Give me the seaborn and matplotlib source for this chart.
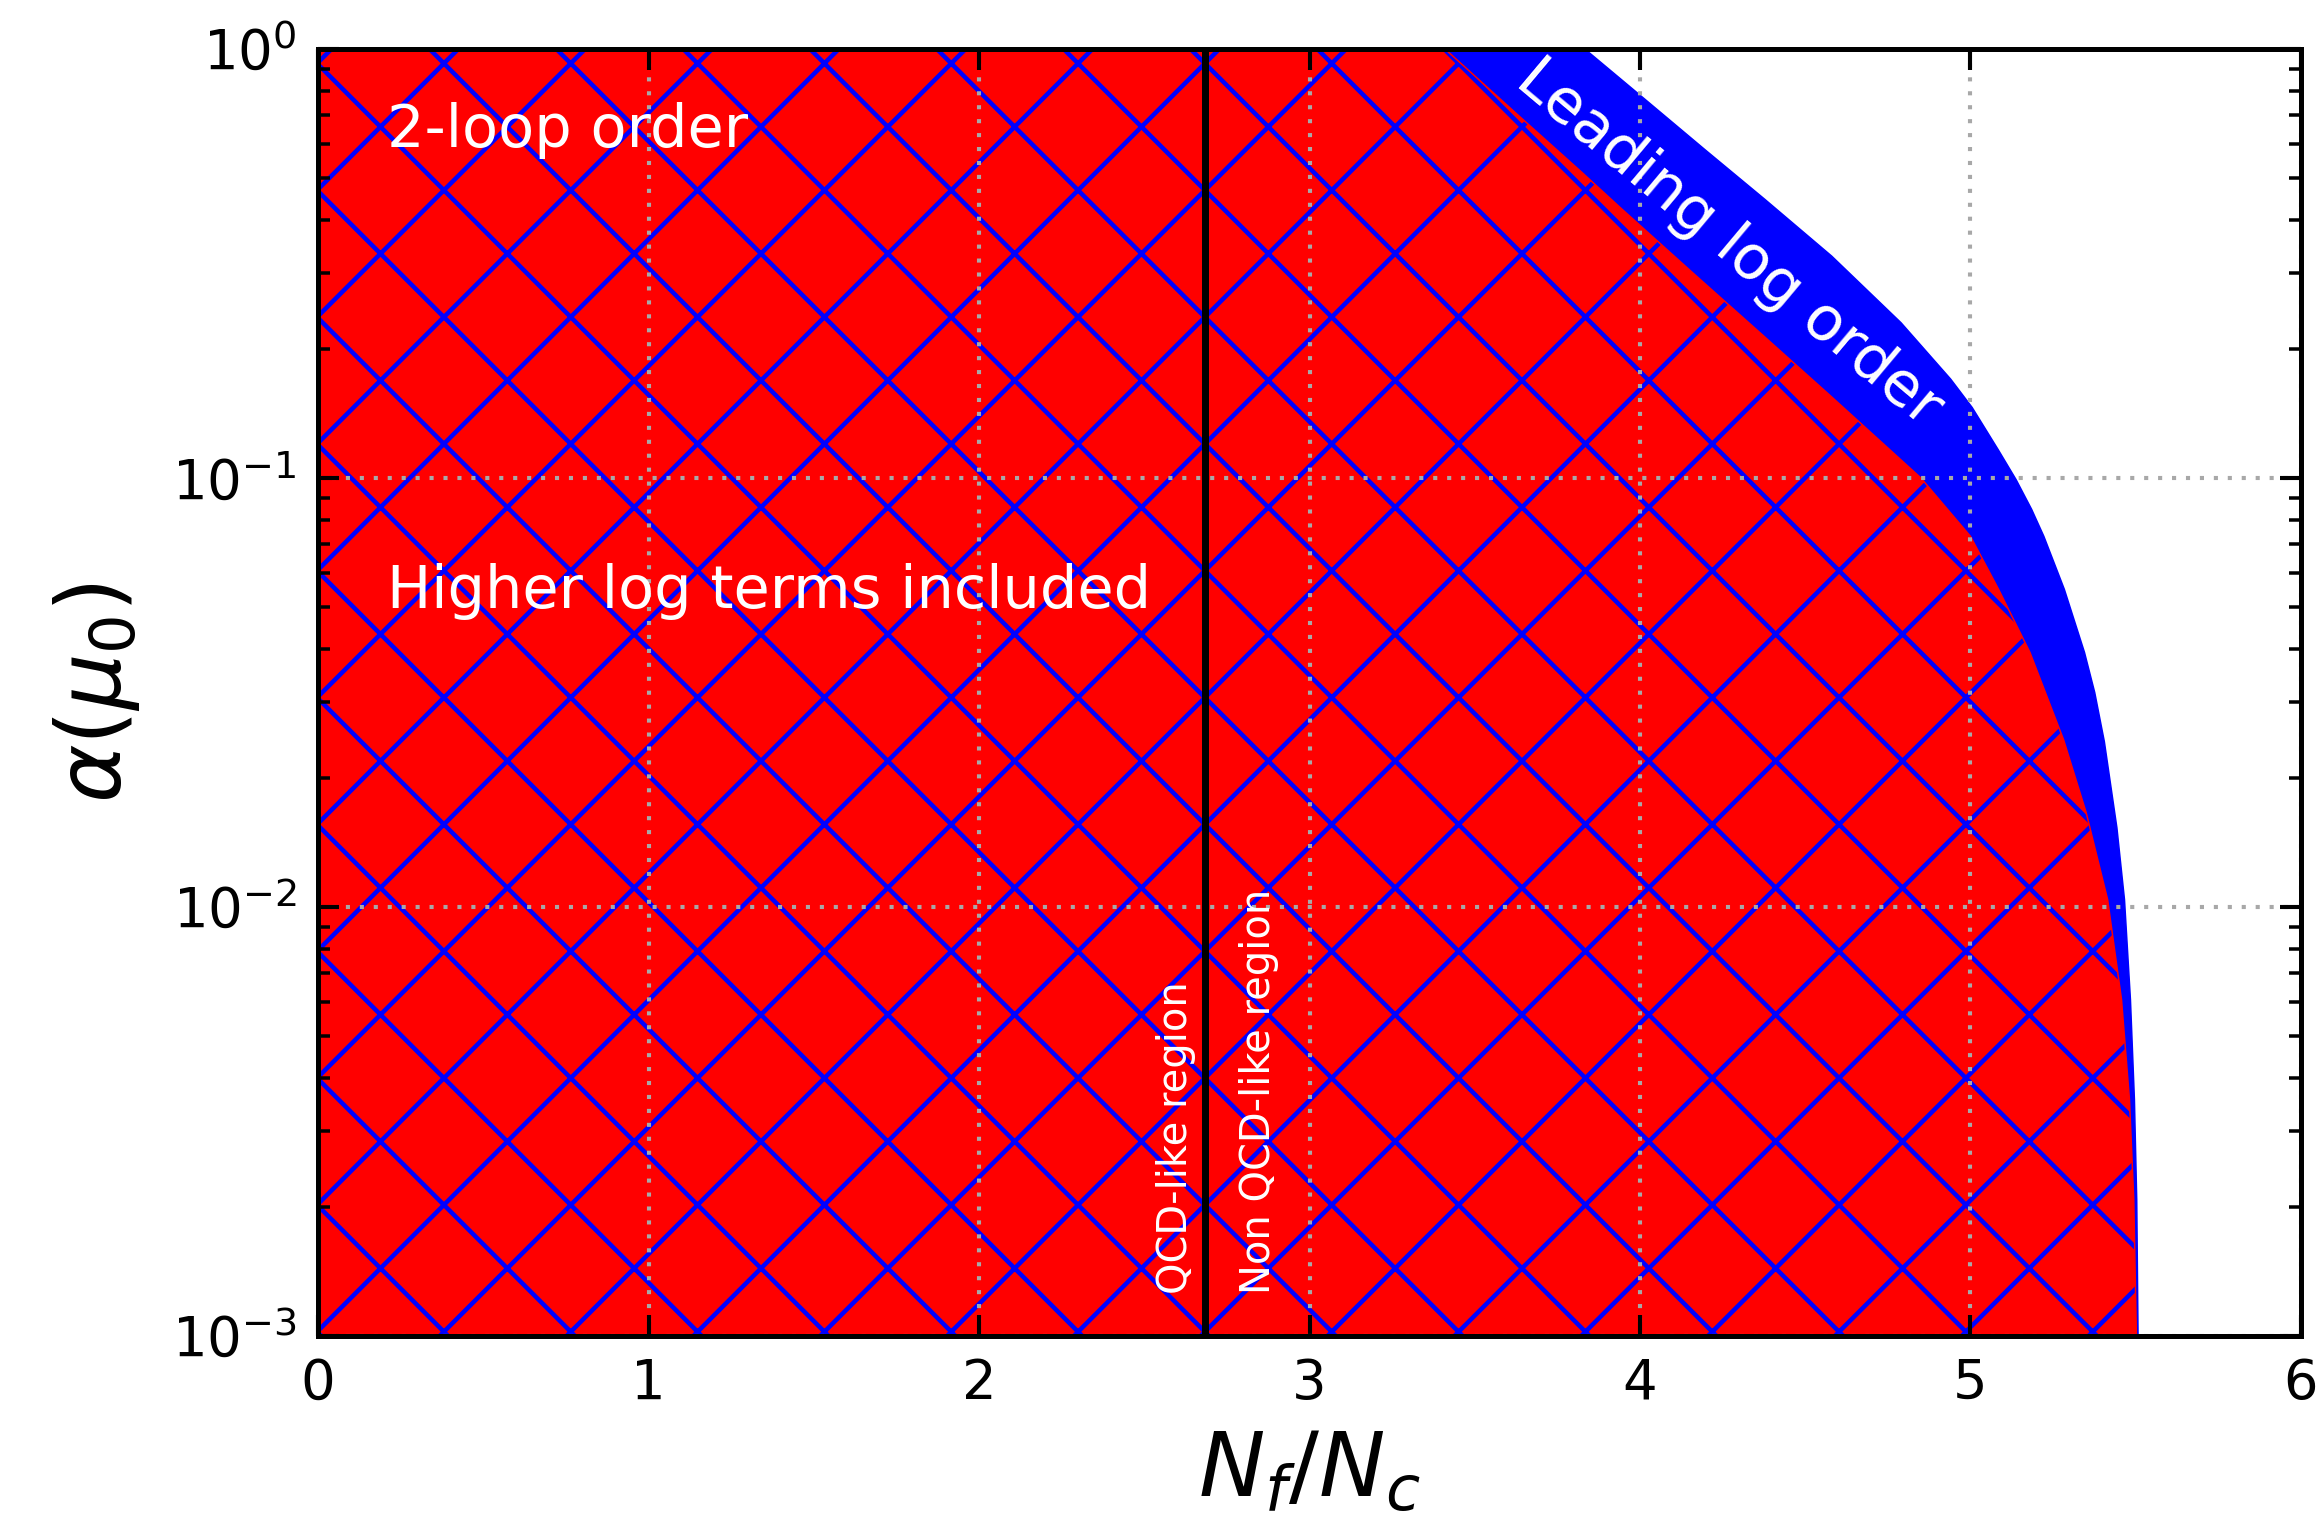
import numpy as np
import pandas as pd
import matplotlib
matplotlib.use("Agg")
import matplotlib.pyplot as plt
import seaborn as sns

# ---------------- data ----------------
# leading-log boundary: alpha(mu0) values and the N_f/N_c edge of the region
alpha_leading = [1.0, 0.760, 0.583, 0.446, 0.329, 0.230, 0.170, 0.146,
                 0.116, 0.0991, 0.0845, 0.0731, 0.0550, 0.0392, 0.0316,
                 0.0243, 0.0153, 0.0104, 0.00608, 0.00356, 0.00208, 0.001]
x_leading = [3.833, 4.018, 4.196, 4.378, 4.58, 4.79, 4.94, 5.005, 5.085,
             5.138, 5.185, 5.222, 5.284, 5.345, 5.376, 5.405, 5.443, 5.466,
             5.484, 5.496, 5.503, 5.507]
# two-loop boundary
alpha_two_loop = [1.0, 0.708, 0.515, 0.427, 0.303, 0.214, 0.155, 0.100,
                  0.0731, 0.0550, 0.0392, 0.0245, 0.0166, 0.0104, 0.00608,
                  0.00356, 0.00208, 0.001]
x_two_loop = [3.41, 3.625, 3.825, 3.94, 4.155, 4.375, 4.578, 4.85, 5.0,
              5.085, 5.18, 5.282, 5.35, 5.415, 5.457, 5.481, 5.494, 5.502]
qcd_boundary = 2.685
x_ticks = [0, 1, 2, 3, 4, 5, 6]

W, H, DPI = 2320, 1527, 761


def P(px):
    """size given in output pixels -> points"""
    return px * 72.0 / DPI


sns.set_style("ticks", {"axes.edgecolor": "black", "xtick.color": "black",
                        "ytick.color": "black", "text.color": "black",
                        "axes.labelcolor": "black",
                        "xtick.direction": "in", "ytick.direction": "in"})
plt.rcParams["font.family"] = ["DejaVu Sans"]
plt.rcParams["hatch.linewidth"] = P(4.5)
plt.rcParams["mathtext.fontset"] = "dejavusans"

fig = plt.figure(figsize=(W / DPI, H / DPI), dpi=DPI)
ax = fig.add_axes([0.1371, 0.1251, 0.8547, 0.8428])
ax.set_yscale("log")
ax.set_xlim(0, 6)
ax.set_ylim(1e-3, 1)

# regions
ax.fill_betweenx(alpha_leading, 0, x_leading, facecolor="#0000ff",
                 edgecolor="none", linewidth=0, zorder=1)
ax.fill_betweenx(alpha_two_loop, 0, x_two_loop, facecolor="#ff0000",
                 edgecolor="#0000ff", hatch="xx", linewidth=0, zorder=2)

# boundaries via seaborn
df = pd.DataFrame({
    "alpha": alpha_leading + alpha_two_loop,
    "x": x_leading + x_two_loop,
    "order": ["Leading log"] * len(alpha_leading)
             + ["2-loop"] * len(alpha_two_loop),
})
sns.lineplot(data=df, x="x", y="alpha", hue="order",
             palette={"Leading log": "#0000ff", "2-loop": "#ff0000"},
             orient="y", estimator=None, sort=False, legend=False,
             linewidth=P(1.5), ax=ax, zorder=2.2)

ax.axvline(qcd_boundary, color="black", linewidth=P(7), zorder=4)

# grid / ticks / spines
ax.set_axisbelow(False)
ax.grid(True, which="major", color="#a8a8a8", linewidth=P(4.1),
        linestyle=(0, (1, 2.4)))
ax.grid(False, which="minor")
ax.set_xticks(x_ticks)
ax.tick_params(which="both", direction="in", top=True, right=True,
               labelsize=P(54.5), pad=P(21))
ax.tick_params(which="major", length=P(21), width=P(4.1))
ax.tick_params(which="minor", length=P(12), width=P(3.5))
for s in ax.spines.values():
    s.set_linewidth(P(5))
    s.set_color("black")
    s.set_zorder(6)

ax.set_xlabel(r"$N_f/N_c$", fontsize=P(89), labelpad=P(18))
ax.set_ylabel(r"$\alpha(\mu_0)$", fontsize=P(89), labelpad=P(30))

# annotations
ax.text(0.21, 0.592, "2-loop order", color="white", fontsize=P(59),
        ha="left", va="baseline", zorder=5)
ax.text(0.21, 0.0498, "Higher log terms included", color="white",
        fontsize=P(59), ha="left", va="baseline", zorder=5)
ax.text(4.27, 0.352, "Leading log order", color="white", fontsize=P(61),
        rotation=-40, rotation_mode="anchor", ha="center", va="center",
        zorder=5)
ax.text(2.595, 0.00125, "QCD-like region", color="white", fontsize=P(40),
        rotation=90, ha="center", va="bottom", zorder=5)
ax.text(2.848, 0.00125, "Non QCD-like region", color="white", fontsize=P(40),
        rotation=90, ha="center", va="bottom", zorder=5)

fig.savefig("out.png", dpi=DPI)
